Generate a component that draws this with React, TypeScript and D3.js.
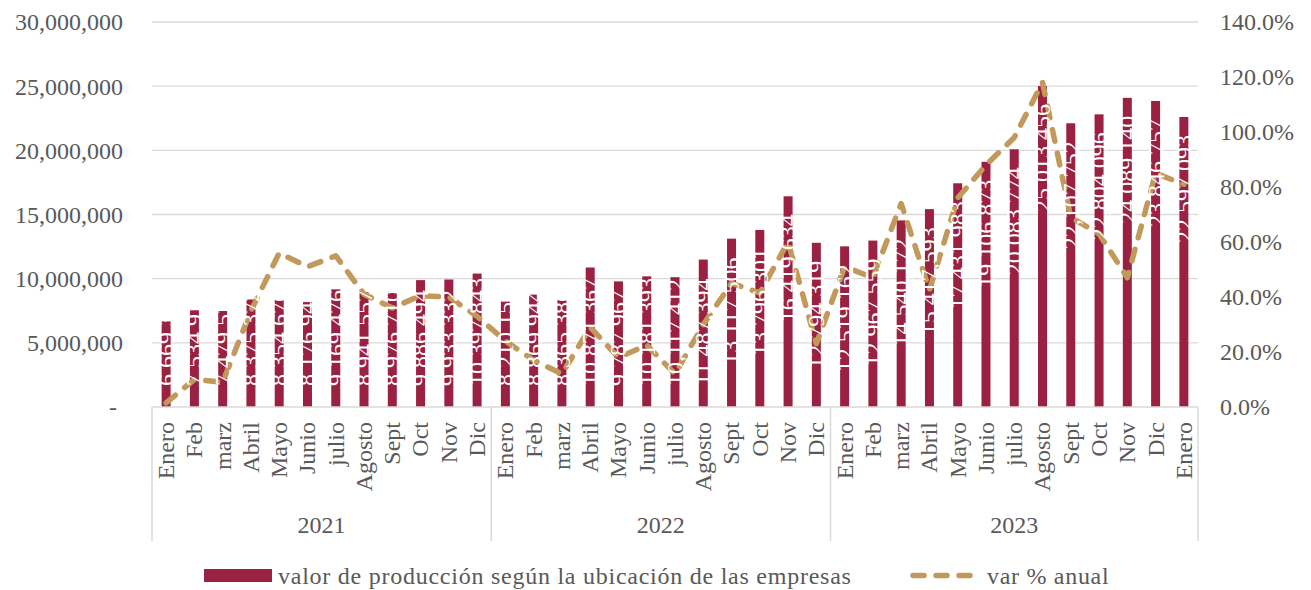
import * as d3 from 'd3'

const months2021 = ['Enero', 'Feb', 'marz', 'Abril', 'Mayo', 'Junio', 'julio', 'Agosto', 'Sept', 'Oct', 'Nov', 'Dic']
const months2022 = ['Enero', 'Feb', 'marz', 'Abril', 'Mayo', 'Junio', 'julio', 'Agosto', 'Sept', 'Oct', 'Nov', 'Dic']
const months2023 = ['Enero', 'Feb', 'marz', 'Abril', 'Mayo', 'Junio', 'julio', 'Agosto', 'Sept', 'Oct', 'Nov', 'Dic', 'Enero']
const years = ['2021', '2022', '2023']

// valor de producción
const prod2021 = [6669312, 7534915, 7479528, 8375372, 8354676, 8176946, 9169476, 8941557, 8976710, 9886494, 9933332, 10397843]
const prod2022 = [8210152, 8869944, 8365386, 10871367, 9787967, 10181393, 10117412, 11487394, 13117506, 13796301, 16419634, 12794319]
const prod2023 = [12519162, 12967559, 14540172, 15417593, 17431983, 19106873, 20083774, 25013456, 22107752, 22804096, 24089140, 23846757, 22597093]

// var % anual
const var2021 = [1.5, 10, 9, 35, 56, 51, 55, 41, 36, 40.5, 40, 33]
const var2022 = [24, 17, 12, 29, 18, 22.5, 12, 30, 45, 41.5, 60, 23]
const var2023 = [51, 47, 74, 42.5, 76, 88, 98, 118, 69, 63, 47, 85, 81]

const leftTicks = [0, 5000000, 10000000, 15000000, 20000000, 25000000, 30000000]
const rightTicks = [0, 20, 40, 60, 80, 100, 120, 140]

const BAR = '#9b2142'
const LINE = '#c19a5b'
const TEXT = '#595959'
const GRID = '#d9d9d9'
const FONT = '"Liberation Serif", serif'

export default function App() {
  const width = 1311
  const height = 590
  const left = 152
  const right = 1198
  const top = 22
  const bottom = 407

  const monthGroups = [months2021, months2022, months2023]
  const rows = monthGroups.flatMap((ms, gi) =>
    ms.map((m, i) => ({
      month: m,
      year: years[gi],
      value: [prod2021, prod2022, prod2023][gi][i],
      pct: [var2021, var2022, var2023][gi][i],
    }))
  )

  const x = d3.scaleBand<number>().domain(rows.map((_, i) => i)).range([left, right]).padding(0)
  const y = d3.scaleLinear().domain([0, 30000000]).range([bottom, top])
  const y2 = d3.scaleLinear().domain([0, 140]).range([bottom, top])
  const cx = (i: number) => (x(i) as number) + x.bandwidth() / 2
  const barW = 9
  const fmt = d3.format(',')

  const line = d3.line<any>().x((_, i) => cx(i)).y(d => y2(d.pct))

  // group boundaries
  const bounds: number[] = []
  let acc = 0
  bounds.push(left)
  monthGroups.forEach(ms => {
    acc += ms.length
    bounds.push(acc === rows.length ? right : (x(acc) as number))
  })

  const labelLen = (s: string) => {
    let l = 0
    for (const ch of s) l += ch === ',' ? 0.25 : 0.5
    return l * 24
  }

  return (
    <svg width={width} height={height} style={{ position: 'absolute', left: 0, top: 0, background: '#fff' }}
      fontFamily={FONT}>
      {leftTicks.slice(1).map(t => (
        <line key={t} x1={left} x2={right} y1={y(t)} y2={y(t)} stroke={GRID} strokeWidth={1.3} />
      ))}
      {leftTicks.map(t => (
        <text key={t} x={t === 0 ? 117 : 123} y={y(t)} dy="0.35em" textAnchor="end" fontSize={24} fill={TEXT}>
          {t === 0 ? '-' : fmt(t)}
        </text>
      ))}
      {rightTicks.map(t => (
        <text key={t} x={1220} y={y2(t)} dy="0.35em" fontSize={24} fill={TEXT}>
          {t.toFixed(1) + '%'}
        </text>
      ))}

      {rows.map((d, i) => (
        <rect key={i} x={cx(i) - barW / 2} y={y(d.value)} width={barW} height={bottom - y(d.value)} fill={BAR} />
      ))}

      <line x1={left} x2={right} y1={bottom} y2={bottom} stroke={GRID} strokeWidth={1.5} />
      {bounds.map((b, i) => (
        <line key={i} x1={b} x2={b} y1={bottom} y2={541} stroke={GRID} strokeWidth={1.5} />
      ))}

      <path d={line(rows) as string} fill="none" stroke={LINE} strokeWidth={5.5}
        strokeDasharray="12 12" strokeLinecap="round" strokeLinejoin="round" />

      {rows.map((d, i) => {
        const s = fmt(d.value)
        const L = labelLen(s)
        const topY = y(d.value) + 18
        const endY = Math.min(topY + L, 386)
        return (
          <text key={i} transform={`translate(${cx(i)},${endY}) rotate(-90)`} dy="0.33em"
            fontSize={24} fill="#fff">{s}</text>
        )
      })}

      {rows.map((d, i) => (
        <text key={i} transform={`translate(${cx(i)},422) rotate(-90)`} dy="0.33em" textAnchor="end"
          fontSize={24} fill={TEXT}>{d.month}</text>
      ))}
      {years.map((yr, i) => (
        <text key={yr} x={(bounds[i] + bounds[i + 1]) / 2} y={533} textAnchor="middle" fontSize={24} fill={TEXT}>
          {yr}
        </text>
      ))}

      <rect x={204} y={569} width={68} height={13} fill={BAR} />
      <text x={278} y={584} fontSize={24} fill={TEXT} letterSpacing={0.75}>
        valor de producción según la ubicación de las empresas
      </text>
      <line x1={913} x2={972} y1={575.5} y2={575.5} stroke={LINE} strokeWidth={5.5}
        strokeDasharray="11 12" strokeLinecap="round" />
      <text x={987} y={584} fontSize={24} fill={TEXT} letterSpacing={0.7}>var % anual</text>
    </svg>
  )
}
